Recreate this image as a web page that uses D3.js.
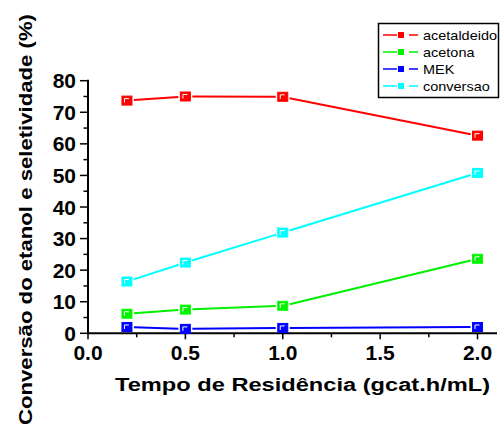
<!DOCTYPE html>
<html>
<head>
<meta charset="utf-8">
<script src="https://cdn.jsdelivr.net/npm/d3@7"></script>
<style>
  body { margin: 0; background: #fff; }
  svg { display: block; font-family: "Liberation Sans", Arial, sans-serif; }
</style>
</head>
<body>
<svg id="chart" width="503" height="428"></svg>
<script>
const tempos = [0.2, 0.5, 1.0, 2.0];

const acetaldeido = [73.7, 75.0, 74.9, 62.6];
const acetona = [6.2, 7.5, 8.7, 23.6];
const mek = [2.0, 1.4, 1.7, 2.0];
const conversao = [16.4, 22.4, 31.9, 50.8];

const xTicks = [0.0, 0.5, 1.0, 1.5, 2.0];
const yTicks = [0, 10, 20, 30, 40, 50, 60, 70, 80];

const series = [
    { name: "acetaldeido", values: acetaldeido, color: "#ff0000" },
    { name: "acetona", values: acetona, color: "#00f000" },
    { name: "MEK", values: mek, color: "#0000ff" },
    { name: "conversao", values: conversao, color: "#00ffff" },
];

const svg = d3.select("#chart");

const x = d3.scaleLinear().domain([0, 2.1]).range([88, 497]);
const y = d3.scaleLinear().domain([0, 80]).range([333.3, 80.7]);

// minor ticks
const xMinor = d3.range(0.25, 2.1, 0.5);
const yMinor = d3.range(5, 80, 10);

const axes = svg.append("g").attr("stroke", "#000");

axes.append("line")
    .attr("x1", x(0) - 1).attr("x2", x(2.1))
    .attr("y1", y(0)).attr("y2", y(0))
    .attr("stroke-width", 2);
axes.append("line")
    .attr("x1", x(0)).attr("x2", x(0))
    .attr("y1", y(0)).attr("y2", y(80) - 1)
    .attr("stroke-width", 2);

axes.selectAll(".xt").data(xTicks).enter().append("line")
    .attr("x1", d => x(d)).attr("x2", d => x(d))
    .attr("y1", y(0)).attr("y2", y(0) + 6)
    .attr("stroke-width", 1.5);
axes.selectAll(".xm").data(xMinor).enter().append("line")
    .attr("x1", d => x(d)).attr("x2", d => x(d))
    .attr("y1", y(0)).attr("y2", y(0) + 4)
    .attr("stroke-width", 1.5);
axes.selectAll(".yt").data(yTicks).enter().append("line")
    .attr("x1", x(0) - 8).attr("x2", x(0))
    .attr("y1", d => y(d)).attr("y2", d => y(d))
    .attr("stroke-width", 1.5);
axes.selectAll(".ym").data(yMinor).enter().append("line")
    .attr("x1", x(0) - 4.5).attr("x2", x(0))
    .attr("y1", d => y(d)).attr("y2", d => y(d))
    .attr("stroke-width", 1.5);

svg.selectAll(".xl").data(xTicks).enter().append("text")
    .attr("x", d => x(d))
    .attr("y", y(0) + 27)
    .attr("text-anchor", "middle")
    .style("font-size", "21px")
    .style("font-weight", "bold")
    .text(d => d3.format(".1f")(d));

svg.selectAll(".yl").data(yTicks).enter().append("text")
    .attr("x", x(0) - 12)
    .attr("y", d => y(d) + 7.5)
    .attr("text-anchor", "end")
    .style("font-size", "21px")
    .style("font-weight", "bold")
    .text(d => d);

svg.append("text")
    .attr("x", 115)
    .attr("y", 391)
    .attr("textLength", 375)
    .attr("lengthAdjust", "spacingAndGlyphs")
    .style("font-size", "18px")
    .style("font-weight", "bold")
    .text("Tempo de Residência (gcat.h/mL)");

svg.append("text")
    .attr("transform", "translate(32,425) rotate(-90)")
    .attr("textLength", 411)
    .attr("lengthAdjust", "spacingAndGlyphs")
    .style("font-size", "19px")
    .style("font-weight", "bold")
    .text("Conversão do etanol e seletividade (%)");

// lines with small gap near the markers
const gap = 7;
series.forEach(function (s) {
    const pts = tempos.map((t, i) => [x(t), y(s.values[i])]);
    const g = svg.append("g");
    for (let i = 0; i < pts.length - 1; i++) {
        const [x1, y1] = pts[i], [x2, y2] = pts[i + 1];
        const len = Math.hypot(x2 - x1, y2 - y1);
        const ux = (x2 - x1) / len, uy = (y2 - y1) / len;
        g.append("line")
            .attr("x1", x1 + ux * gap).attr("y1", y1 + uy * gap)
            .attr("x2", x2 - ux * gap).attr("y2", y2 - uy * gap)
            .attr("stroke", s.color)
            .attr("stroke-width", 2);
    }
    const m = g.selectAll(".pt").data(pts).enter().append("g")
        .attr("transform", d => "translate(" + d[0] + "," + d[1] + ")");
    m.append("rect")
        .attr("x", -5).attr("y", -4.5)
        .attr("width", 10).attr("height", 9)
        .attr("fill", s.color)
        .attr("stroke", d3.color(s.color).brighter(0.6))
        .attr("stroke-width", 1);
    m.append("path")
        .attr("d", "M-2.5,2 V-2 H2")
        .attr("fill", "none")
        .attr("stroke", "#fff")
        .attr("stroke-width", 1);
});

// legend
const legend = svg.append("g");
legend.append("rect")
    .attr("x", 378.5).attr("y", 23.5)
    .attr("width", 120).attr("height", 74)
    .attr("fill", "#fff")
    .attr("stroke", "#000")
    .attr("stroke-width", 1.5);

const rowY = d3.scalePoint().domain(series.map(s => s.name)).range([35, 86]);
const labels = [];
series.forEach(function (s) {
    const ry = rowY(s.name);
    const lg = legend.append("g");
    lg.append("line").attr("x1", 383).attr("x2", 397).attr("y1", ry).attr("y2", ry)
        .attr("stroke", s.color).attr("stroke-width", 1.5);
    lg.append("line").attr("x1", 409).attr("x2", 418).attr("y1", ry).attr("y2", ry)
        .attr("stroke", s.color).attr("stroke-width", 1.5);
    lg.append("rect").attr("x", 398).attr("y", ry - 3)
        .attr("width", 6).attr("height", 6)
        .attr("fill", s.color);
    labels.push(lg.append("text")
        .attr("x", 0).attr("y", 0)
        .attr("transform", "translate(423," + (ry + 4.5) + ")")
        .style("font-size", "13px")
        .text(s.name));
});
// origin-like horizontally stretched legend text: "acetaldeido" spans ~74px
const k = 74 / labels[0].node().getComputedTextLength();
labels.forEach(function (t) {
    t.attr("transform", t.attr("transform") + " scale(" + k + ",1)");
});
</script>
</body>
</html>
